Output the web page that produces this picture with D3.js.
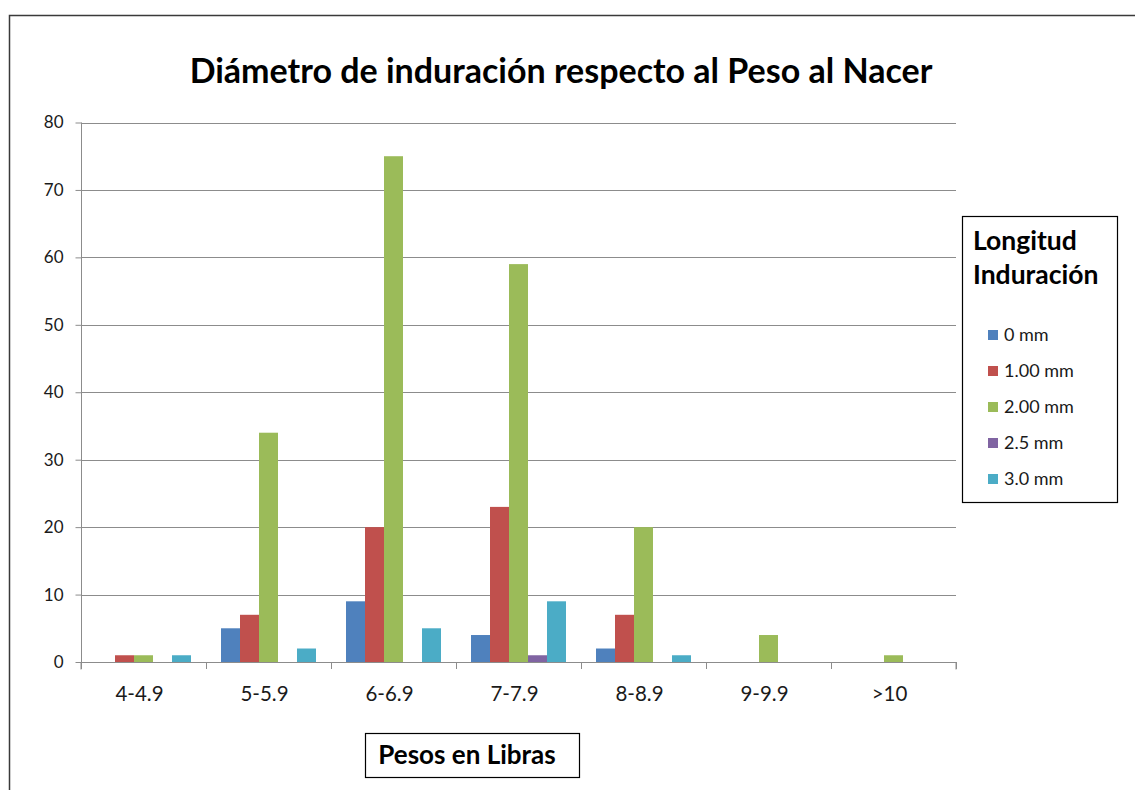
<!DOCTYPE html>
<html><head><meta charset="utf-8">
<script src="https://cdn.jsdelivr.net/npm/d3@7"></script>
<style>body{margin:0;background:#fff}svg{display:block}</style>
</head><body>
<svg id="c" width="1135" height="790"></svg>
<script>
const categories = ["4-4.9","5-5.9","6-6.9","7-7.9","8-8.9","9-9.9",">10"];
const seriesNames = ["0 mm","1.00 mm","2.00 mm","2.5 mm","3.0 mm"];
const s0mm   = [0, 5, 9, 4, 2, 0, 0];
const s100mm = [1, 7, 20, 23, 7, 0, 0];
const s200mm = [1, 34, 75, 59, 20, 4, 1];
const s25mm  = [0, 0, 0, 1, 0, 0, 0];
const s30mm  = [1, 2, 5, 9, 1, 0, 0];
const yTicks = [0,10,20,30,40,50,60,70,80];
const colors = ["#4F81BD","#C0504D","#9BBB59","#8064A2","#4BACC6"];
const series = [s0mm, s100mm, s200mm, s25mm, s30mm];

const svg = d3.select("#c");
const font = "Lato, 'Open Sans', sans-serif";

// outer frame
svg.append("path").attr("d","M9.5,790 V15.5 H1135").attr("fill","none").attr("stroke","#3a3a3a").attr("stroke-width",1.5);

const L = 81, R = 956, T = 122.5, B = 662;
const x = d3.scaleBand().domain(categories).range([L, R]);
const xs = d3.scaleBand().domain(seriesNames).range([0, x.bandwidth()]).paddingOuter(0.79).paddingInner(0);
const y = d3.scaleLinear().domain([0,80]).range([B, T]);

// gridlines
svg.append("g").selectAll("line").data(yTicks.filter(d=>d>0)).join("line")
  .attr("x1",L).attr("x2",R).attr("y1",d=>Math.round(y(d))+0.5).attr("y2",d=>Math.round(y(d))+0.5)
  .attr("stroke","#8c8c8c").attr("stroke-width",1);

// bars
const g = svg.append("g");
series.forEach((vals,si)=>{
  g.selectAll(null).data(vals.map((v,i)=>({v,c:categories[i]}))).join("rect")
    .attr("x",d=>x(d.c)+xs(seriesNames[si]))
    .attr("width",xs.bandwidth())
    .attr("y",d=>y(d.v))
    .attr("height",d=>B-y(d.v))
    .attr("fill",colors[si]);
});

// y axis
const ya = svg.append("g").attr("transform",`translate(${L+0.5},0)`)
  .call(d3.axisLeft(y).tickValues(yTicks).tickSize(6).tickPadding(12));
ya.select(".domain").attr("stroke","#8c8c8c").attr("d",`M0,${T}V${B}`);
ya.selectAll(".tick line").attr("stroke","#8c8c8c");
ya.selectAll("text").attr("font-family",font).attr("font-size",17).attr("fill","#1a1a1a");

// x axis
const xa = svg.append("g").attr("transform",`translate(0,${Math.round(B)+0.5})`)
  .call(d3.axisBottom(x).tickSize(0).tickPadding(0));
xa.select(".domain").attr("stroke","#8c8c8c").attr("d",`M${L},7V0H${R}V7`);
xa.selectAll(".tick text").attr("font-family",font).attr("font-size",20.5).attr("fill","#1a1a1a")
  .attr("dy",null).attr("y",38).attr("dx",-4);
const bx = x.domain().map(c=>x(c)).concat([R]);
svg.append("g").selectAll("line").data(bx).join("line")
  .attr("x1",d=>Math.round(d)+0.5).attr("x2",d=>Math.round(d)+0.5).attr("y1",B).attr("y2",B+7)
  .attr("stroke","#8c8c8c");

// title
svg.append("text").attr("x",561).attr("y",83).attr("text-anchor","middle")
  .attr("font-family",font).attr("font-weight","bold").attr("font-size",34).attr("fill","#000")
  .text("Diámetro de induración respecto al Peso al Nacer");

// x axis title box
svg.append("rect").attr("x",365.5).attr("y",733.5).attr("width",214).attr("height",44)
  .attr("fill","#fff").attr("stroke","#000").attr("stroke-width",1.2);
svg.append("text").attr("x",467).attr("y",764).attr("text-anchor","middle")
  .attr("font-family",font).attr("font-weight","bold").attr("font-size",26).text("Pesos en Libras");

// legend
svg.append("rect").attr("x",962.5).attr("y",216.5).attr("width",155).attr("height",286)
  .attr("fill","#fff").attr("stroke","#000").attr("stroke-width",1.2);
svg.append("text").attr("x",973).attr("y",250).attr("font-family",font).attr("font-weight","bold").attr("font-size",26.5).text("Longitud");
svg.append("text").attr("x",973).attr("y",284).attr("font-family",font).attr("font-weight","bold").attr("font-size",26.5).text("Induración");
const lg = svg.append("g").selectAll("g").data(seriesNames).join("g")
  .attr("transform",(d,i)=>`translate(988,${335+i*36})`);
lg.append("rect").attr("x",0).attr("y",-5).attr("width",10).attr("height",10).attr("fill",(d,i)=>colors[i]);
lg.append("text").attr("x",16).attr("y",6).attr("font-family",font).attr("font-size",18).attr("fill","#1a1a1a").text(d=>d);
</script>
</body></html>
